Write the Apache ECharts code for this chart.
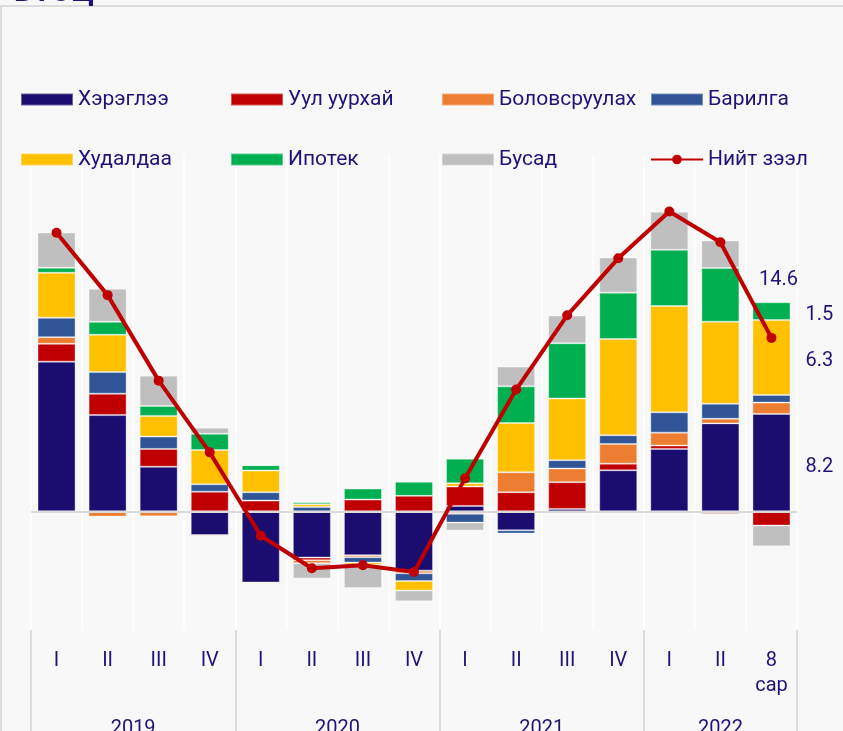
<!DOCTYPE html>
<html>
<head>
<meta charset="utf-8">
<script src="https://cdn.jsdelivr.net/npm/echarts@6.0.0/dist/echarts.min.js"></script>
<style>
  html, body { margin: 0; padding: 0; background: #f8f8f8; }
  #main { width: 843px; height: 731px; }
</style>
</head>
<body>
<div id="main"></div>
<script>
// улирлууд
var quarters = ['I', 'II', 'III', 'IV', 'I', 'II', 'III', 'IV', 'I', 'II', 'III', 'IV', 'I', 'II', '8\nсар'];
var years = ['2019', '2020', '2021', '2022'];
var yearSizes = [4, 4, 4, 3];

// салбаруудын хувь нэмэр
var consumer = [12.6, 8.1, 3.75, -2.0, -6.0, -3.9, -3.7, -5.0, 0.45, -1.6, 0.2, 3.45, 5.25, 7.4, 8.2];
var mining = [1.5, 1.8, 1.5, 1.65, 0.9, -0.22, 0.98, 1.3, 1.63, 1.6, 2.25, 0.56, 0.28, -0.2, -1.2];
var manufacturing = [0.56, -0.45, -0.42, -0.1, 0, -0.25, -0.17, -0.22, -0.22, 1.68, 1.15, 1.66, 1.09, 0.39, 0.95];
var construction = [1.63, 1.82, 1.04, 0.62, 0.7, 0.36, -0.45, -0.65, -0.73, -0.28, 0.7, 0.73, 1.71, 1.26, 0.65];
var trade = [3.79, 3.14, 1.74, 2.89, 1.83, 0.22, -0.2, -0.81, 0.28, 4.15, 5.19, 8.11, 8.95, 6.91, 6.3];
var mortgage = [0.42, 1.09, 0.84, 1.37, 0.45, 0.17, 0.93, 1.18, 2.07, 3.09, 4.66, 3.9, 4.74, 4.52, 1.5];
var other = [2.97, 2.78, 2.55, 0.51, 0, -1.29, -1.94, -0.9, -0.67, 1.66, 2.33, 2.95, 3.2, 2.33, -1.75];
var total = [23.46, 18.2, 11.0, 4.96, -2.06, -4.8, -4.55, -5.12, 2.77, 10.25, 16.5, 21.3, 25.24, 22.65, 14.6];

var navyText = '#1e1478';
var font = 'Roboto';

// жилийн тэнхлэгт хагас алхамтай цэгүүд (0..15)
var yearAxis = [];
var yearTicks = [0];
var yearLabelIdx = {};
(function () {
  var pos = 0;
  for (var i = 0; i <= 30; i++) yearAxis.push('');
  years.forEach(function (y, k) {
    var mid = pos + yearSizes[k] / 2;
    yearAxis[mid * 2] = y;
    yearLabelIdx[mid * 2] = true;
    pos += yearSizes[k];
    yearTicks.push(pos * 2);
  });
})();

var last = quarters.length - 1;
function withLastLabel(arr) {
  return arr.map(function (v, i) {
    if (i === last) {
      return { value: v, label: { show: true } };
    }
    return v;
  });
}

function barSeries(name, data, color, lastLabel) {
  return {
    name: name,
    type: 'bar',
    stack: 'total',
    barWidth: 38,
    data: lastLabel ? withLastLabel(data) : data,
    itemStyle: {
      color: color,
      borderColor: 'rgba(255,255,255,0.35)',
      borderWidth: 1
    },
    label: {
      show: false,
      position: 'right',
      distance: 15,
      offset: [0, 4],
      color: navyText,
      fontSize: 20,
      fontFamily: font
    }
  };
}

var myChart = echarts.init(document.getElementById('main'));

function legendCol(left, names) {
  return {
    orient: 'vertical',
    left: left,
    top: 88,
    padding: 0,
    itemWidth: 52,
    itemHeight: 12,
    itemGap: 37,
    selectedMode: false,
    textStyle: { color: navyText, fontSize: 21, fontFamily: font, lineHeight: 23 },
    data: names
  };
}

var option = {
  backgroundColor: '#f8f8f8',
  animation: false,
  graphic: [
    {
      type: 'rect',
      z: 0,
      shape: { x: 1, y: 6, width: 900, height: 800 },
      style: { fill: 'none', stroke: '#dcdcdc', lineWidth: 2 }
    },
    {
      type: 'text',
      left: 14,
      top: -22,
      z: 10,
      style: { text: 'БТӨЦ', fontSize: 30, fontWeight: 'bold', fill: navyText, fontFamily: font }
    }
  ],
  legend: [
    legendCol(20, [{ name: 'Хэрэглээ', icon: 'rect' }, { name: 'Худалдаа', icon: 'rect' }]),
    legendCol(230, [{ name: 'Уул уурхай', icon: 'rect' }, { name: 'Ипотек', icon: 'rect' }]),
    legendCol(441, [{ name: 'Боловсруулах', icon: 'rect' }, { name: 'Бусад', icon: 'rect' }]),
    legendCol(650, [{ name: 'Барилга', icon: 'rect' }, { name: 'Нийт зээл' }])
  ],
  grid: {
    left: 31,
    right: 46,
    top: 155,
    bottom: 101,
    containLabel: false,
    outerBoundsMode: 'none'
  },
  xAxis: [
    {
      type: 'category',
      data: quarters,
      position: 'bottom',
      axisLine: { show: true, lineStyle: { color: '#ffffff', width: 2 } },
      axisTick: { show: false },
      splitLine: { show: true, lineStyle: { color: '#ffffff', width: 1.5 } },
      axisLabel: {
        interval: 0,
        margin: 18,
        color: navyText,
        fontSize: 20,
        lineHeight: 25,
        fontFamily: font
      }
    },
    {
      type: 'category',
      data: yearAxis,
      boundaryGap: false,
      position: 'bottom',
      axisLine: { show: false },
      axisTick: {
        show: true,
        length: 102,
        interval: function (idx) { return yearTicks.indexOf(idx) >= 0; },
        lineStyle: { color: '#dcdcdc', width: 2 }
      },
      axisLabel: {
        margin: 89,
        interval: function (idx) { return !!yearLabelIdx[idx]; },
        color: navyText,
        fontSize: 20,
        fontFamily: font
      },
      splitLine: { show: false }
    }
  ],
  yAxis: {
    type: 'value',
    min: -10,
    max: 30,
    interval: 10,
    axisLabel: { show: false },
    axisLine: { show: false },
    axisTick: { show: false },
    splitLine: { show: false }
  },
  series: [
    Object.assign(barSeries('Хэрэглээ', consumer, '#1b0c70', true), {
      markLine: {
        silent: true,
        symbol: 'none',
        label: { show: false },
        lineStyle: { color: '#dadada', width: 2, type: 'solid' },
        data: [{ yAxis: 0 }]
      }
    }),
    barSeries('Уул уурхай', mining, '#c00000'),
    barSeries('Боловсруулах', manufacturing, '#ed7d31'),
    barSeries('Барилга', construction, '#2f5597'),
    barSeries('Худалдаа', trade, '#ffc000', true),
    barSeries('Ипотек', mortgage, '#00b050', true),
    barSeries('Бусад', other, '#bfbfbf'),
    {
      name: 'Нийт зээл',
      type: 'line',
      data: total.map(function (v, i) {
        if (i === last) return { value: v, label: { show: true } };
        return v;
      }),
      z: 5,
      symbol: 'circle',
      symbolSize: 10,
      itemStyle: { color: '#c00000' },
      lineStyle: { color: '#c00000', width: 4 },
      label: {
        show: false,
        position: 'top',
        offset: [7, -38],
        color: navyText,
        fontSize: 20,
        fontFamily: font
      }
    }
  ]
};

myChart.setOption(option);
</script>
</body>
</html>
